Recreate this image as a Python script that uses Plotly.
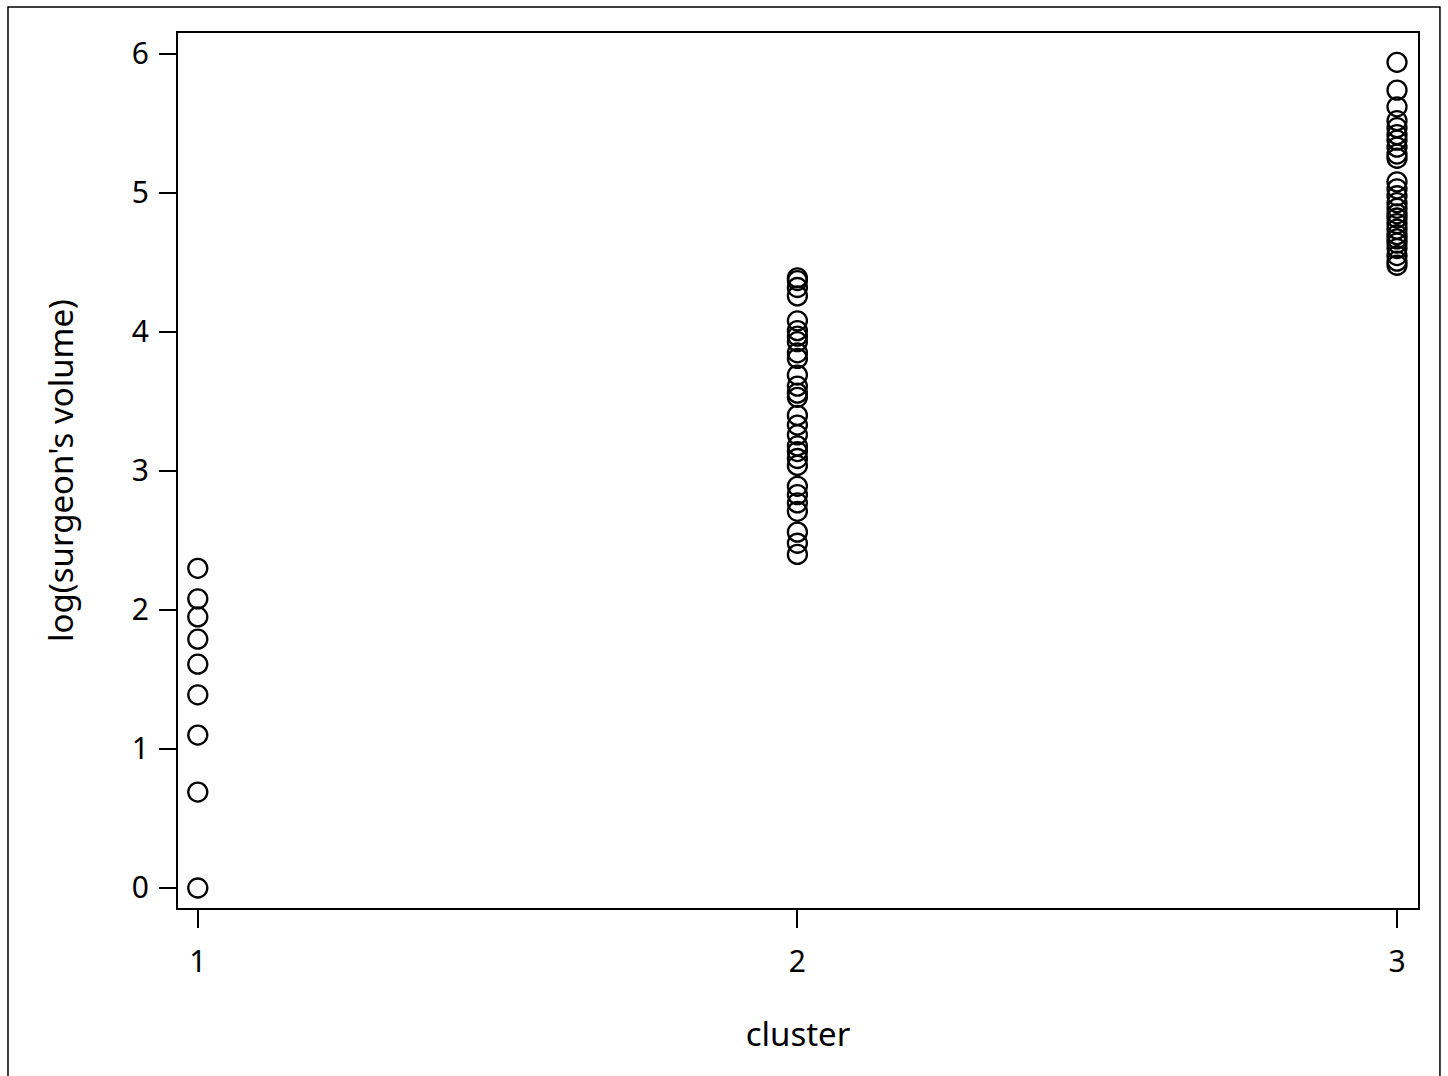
import plotly.graph_objects as go

cluster1 = [0.0, 0.69, 1.10, 1.39, 1.61, 1.79, 1.95, 2.08, 2.30]
cluster2 = [2.40, 2.48, 2.56, 2.71, 2.77, 2.83, 2.89, 3.04, 3.09, 3.14, 3.18,
            3.26, 3.33, 3.40, 3.53, 3.56, 3.61, 3.69, 3.81, 3.85, 3.93, 3.97,
            4.01, 4.08, 4.26, 4.32, 4.37, 4.39]
cluster3 = [4.48, 4.51, 4.55, 4.60, 4.64, 4.67, 4.70, 4.74, 4.78, 4.82, 4.85,
            4.89, 4.93, 4.98, 5.03, 5.08, 5.25, 5.28, 5.33, 5.38, 5.42, 5.47,
            5.52, 5.62, 5.74, 5.94]

xs = [1] * len(cluster1) + [2] * len(cluster2) + [3] * len(cluster3)
ys = cluster1 + cluster2 + cluster3

FONT = "Noto Sans, Open Sans, sans-serif"

fig = go.Figure(go.Scatter(
    x=xs, y=ys, mode="markers",
    marker=dict(symbol="circle-open", size=19, color="black",
                line=dict(color="black", width=2.3)),
    showlegend=False,
))

fig.update_layout(
    width=1448, height=1076,
    margin=dict(l=178, r=30, t=33, b=168),
    plot_bgcolor="white", paper_bgcolor="white",
    font=dict(family=FONT, size=30, color="black"),
    shapes=[dict(type="rect", xref="paper", yref="paper",
                 x0=-0.1371, x1=1.0177, y0=-0.2, y1=1.0297,
                 line=dict(color="black", width=1.5), layer="below")],
)
fig.update_xaxes(
    range=[0.967, 3.035], tickvals=[1, 2, 3], ticktext=["1", "2", "3"],
    showgrid=False, zeroline=False, showline=True, mirror=True,
    linecolor="black", linewidth=2, ticks="outside", ticklen=18,
    tickwidth=2, tickcolor="black", tickfont=dict(size=30),
    ticklabelstandoff=8,
    title=dict(text="cluster", font=dict(size=33), standoff=43),
)
fig.update_yaxes(
    range=[-0.144, 6.151], tickvals=[0, 1, 2, 3, 4, 5, 6],
    showgrid=False, zeroline=False, showline=True, mirror=True,
    linecolor="black", linewidth=2, ticks="outside", ticklen=17,
    tickwidth=2, tickcolor="black", tickfont=dict(size=30),
    ticklabelstandoff=4,
    title=dict(text="log(surgeon's volume)", font=dict(size=33), standoff=48),
)

fig.write_html("out.html")
